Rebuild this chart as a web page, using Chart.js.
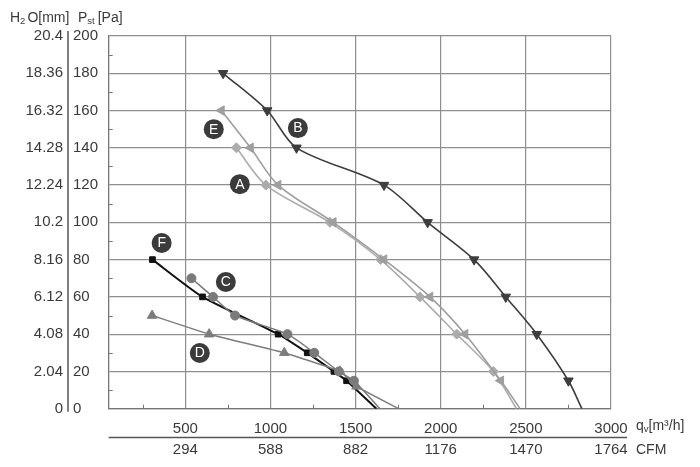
<!DOCTYPE html>
<html lang="en">

<head>
    <meta charset="UTF-8">
    <title>Fan curves</title>
    <style>
        html, body { margin: 0; padding: 0; background: #fff; }
        #wrap { width: 700px; height: 467px; }
    </style>
</head>

<body>
    <div id="wrap">
        <canvas id="fanChart" width="700" height="467"></canvas>
    </div>

    <script src="https://cdn.jsdelivr.net/npm/chart.js"></script>

    <script>
        // tick values and labels
        var flowTicks = [500, 1000, 1500, 2000, 2500, 3000];
        var cfmLabels = ['294', '588', '882', '1176', '1470', '1764'];
        var paTicks = [0, 20, 40, 60, 80, 100, 120, 140, 160, 180, 200];
        var h2oTicks = [0, 2.04, 4.08, 6.12, 8.16, 10.2, 12.24, 14.28, 16.32, 18.36, 20.4];
        var h2oLabels = ['0', '2.04', '4.08', '6.12', '8.16', '10.2', '12.24', '14.28', '16.32', '18.36', '20.4'];

        // curves, qv [m3/h] and Pst [Pa]
        var flowA = [800, 973, 1349, 1647, 1878, 2094, 2309, 2445];
        var pressA = [140, 120, 100, 80, 60, 40, 20, 0];
        var flowB = [722, 981, 1153, 1667, 1923, 2196, 2382, 2564, 2750, 2829];
        var pressB = [180, 160, 140, 120, 100, 80, 60, 40, 15, 0];
        var flowC = [536, 663, 792, 1100, 1257, 1402, 1490, 1643];
        var pressC = [70, 60, 50, 40, 30, 20, 15, 0];
        var flowD = [305, 640, 1081, 1408, 1505, 1753];
        var pressD = [50, 40, 30, 20, 12, 0];
        var flowE = [712, 883, 1045, 1369, 1667, 1937, 2143, 2353, 2466];
        var pressE = [160, 140, 120, 100, 80, 60, 40, 15, 0];
        var flowF = [307, 601, 1045, 1216, 1373, 1447, 1622];
        var pressF = [80, 60, 40, 30, 20, 15, 0];

        // curve tags
        var tagNames = ['E', 'B', 'A', 'F', 'C', 'D'];
        var tagFlow = [667, 1161, 820, 361, 738, 585];
        var tagPress = [150, 150.6, 120.5, 88.9, 68, 29.9];

        var FONT = '"Liberation Sans", Arial, sans-serif';
        var TXT = '#3a3a3a';

        function pts(xs, ys) {
            return xs.map(function (x, i) { return { x: x, y: ys[i] }; });
        }

        // no marker on the point where a curve hits zero
        function radii(xs, r) {
            return xs.map(function (_, i) { return i === xs.length - 1 ? 0 : r; });
        }

        function curve(label, xs, ys, color, style, rot, r, width, tension) {
            return {
                label: label,
                data: pts(xs, ys),
                borderColor: color,
                backgroundColor: color,
                borderWidth: width,
                pointStyle: style,
                rotation: rot,
                pointRadius: radii(xs, r),
                pointHoverRadius: radii(xs, r),
                pointBorderWidth: 1,
                tension: tension
            };
        }

        var decor = {
            id: 'decor',
            beforeDraw: function (chart) {
                var c = chart.ctx;
                c.save();
                c.fillStyle = '#fff';
                c.fillRect(0, 0, chart.width, chart.height);
                c.restore();
            },
            afterDatasetsDraw: function (chart) {
                var c = chart.ctx;
                var xs = chart.scales.x, ys = chart.scales.y;
                var area = chart.chartArea;
                c.save();

                // minor tick marks
                c.strokeStyle = '#777';
                c.lineWidth = 1;
                c.beginPath();
                for (var v = 10; v < 200; v += 20) {
                    var py = Math.round(ys.getPixelForValue(v)) + 0.5;
                    c.moveTo(area.left, py);
                    c.lineTo(area.left + 4, py);
                }
                for (var f = 250; f < 3000; f += 500) {
                    var px = Math.round(xs.getPixelForValue(f)) + 0.5;
                    c.moveTo(px, area.bottom);
                    c.lineTo(px, area.bottom - 4);
                }
                c.stroke();

                // separator between the two pressure scales
                c.strokeStyle = '#555';
                c.lineWidth = 1.5;
                c.beginPath();
                c.moveTo(68, 31);
                c.lineTo(68, area.bottom + 3);
                c.stroke();

                // separator between m3/h and CFM rows
                c.lineWidth = 1.3;
                c.beginPath();
                c.moveTo(area.left, 437.5);
                c.lineTo(627, 437.5);
                c.stroke();

                // tags
                c.textAlign = 'center';
                c.textBaseline = 'middle';
                tagNames.forEach(function (t, i) {
                    var cx = xs.getPixelForValue(tagFlow[i]);
                    var cy = ys.getPixelForValue(tagPress[i]);
                    c.fillStyle = '#3b3b3b';
                    c.beginPath();
                    c.arc(cx, cy, 10, 0, Math.PI * 2);
                    c.fill();
                    c.fillStyle = '#fff';
                    c.font = '14px ' + FONT;
                    c.fillText(t, cx, cy + 0.5);
                });

                // axis titles
                c.fillStyle = TXT;
                c.textAlign = 'left';
                c.textBaseline = 'alphabetic';
                var big = '14px ' + FONT, small = '9.5px ' + FONT;
                function run(parts, x, y) {
                    parts.forEach(function (p) {
                        c.font = p[1] ? small : big;
                        c.fillText(p[0], x, y + (p[1] ? 2 : 0));
                        x += c.measureText(p[0]).width + (p[2] || 0);
                    });
                }
                run([['H', 0], ['2', 1, 2], ['O[mm]', 0]], 10, 22);
                run([['P', 0], ['st', 1, 3], ['[Pa]', 0]], 78, 22);
                run([['q', 0], ['v', 1], ['[m\u00b3/h]', 0]], 636, 430);
                run([['CFM', 0]], 636, 454);

                c.restore();
            }
        };

        var ctx = document.getElementById('fanChart').getContext('2d');

        new Chart(ctx, {
            type: 'line',
            data: {
                datasets: [
                    curve('B', flowB, pressB, '#3d3d3d', 'triangle', 180, 5.5, 1.6, 0.3),
                    curve('E', flowE, pressE, '#9e9e9e', 'triangle', -90, 5.5, 1.6, 0.3),
                    curve('A', flowA, pressA, '#acacac', 'rectRot', 0, 5, 1.6, 0.3),
                    curve('D', flowD, pressD, '#7c7c7c', 'triangle', 0, 5.5, 1.5, 0.1),
                    curve('C', flowC, pressC, '#7a7a7a', 'circle', 0, 4.5, 1.5, 0.2),
                    curve('F', flowF, pressF, '#111111', 'rect', 0, 4, 2, 0.2)
                ]
            },
            plugins: [decor],
            options: {
                responsive: false,
                animation: false,
                events: [],
                layout: { padding: { top: 36, right: 89, left: 0, bottom: 0 } },
                plugins: {
                    legend: { display: false },
                    tooltip: { enabled: false }
                },
                scales: {
                    x: {
                        type: 'linear',
                        position: 'bottom',
                        weight: 0,
                        min: 50,
                        max: 3000,
                        afterBuildTicks: function (s) {
                            s.ticks = flowTicks.map(function (v) { return { value: v }; });
                        },
                        afterFit: function (s) { s.height = 28.5; },
                        grid: { color: '#8e8e8e', lineWidth: 1.2, drawTicks: false },
                        border: { display: true, color: '#777', width: 1.3 },
                        ticks: {
                            padding: 11,
                            maxRotation: 0,
                            color: TXT,
                            font: { family: FONT, size: 15 },
                            callback: function (v) { return String(v); }
                        }
                    },
                    x2: {
                        type: 'linear',
                        position: 'bottom',
                        weight: 1,
                        min: 50,
                        max: 3000,
                        afterBuildTicks: function (s) {
                            s.ticks = flowTicks.map(function (v) { return { value: v }; });
                        },
                        afterFit: function (s) { s.height = 29.8; },
                        grid: { display: false, drawTicks: false },
                        border: { display: false },
                        ticks: {
                            padding: 4,
                            maxRotation: 0,
                            color: TXT,
                            font: { family: FONT, size: 15 },
                            callback: function (v, i) { return cfmLabels[i]; }
                        }
                    },
                    y: {
                        type: 'linear',
                        position: 'left',
                        weight: 0,
                        min: 0,
                        max: 200,
                        afterBuildTicks: function (s) {
                            s.ticks = paTicks.map(function (v) { return { value: v }; });
                        },
                        afterFit: function (s) { s.width = 35.7; },
                        grid: { color: '#8e8e8e', lineWidth: 1.2, drawTicks: false },
                        border: { display: true, color: '#777', width: 1.3 },
                        ticks: {
                            crossAlign: 'far',
                            padding: 0,
                            color: TXT,
                            font: { family: FONT, size: 15 }
                        }
                    },
                    h2o: {
                        type: 'linear',
                        position: 'left',
                        weight: 1,
                        min: 0,
                        max: 20.4,
                        afterBuildTicks: function (s) {
                            s.ticks = h2oTicks.map(function (v) { return { value: v }; });
                        },
                        afterFit: function (s) { s.width = 73; },
                        grid: { display: false, drawTicks: false },
                        border: { display: false },
                        ticks: {
                            padding: 10,
                            color: TXT,
                            font: { family: FONT, size: 15 },
                            callback: function (v, i) { return h2oLabels[i]; }
                        }
                    }
                }
            }
        });
    </script>
</body>

</html>
